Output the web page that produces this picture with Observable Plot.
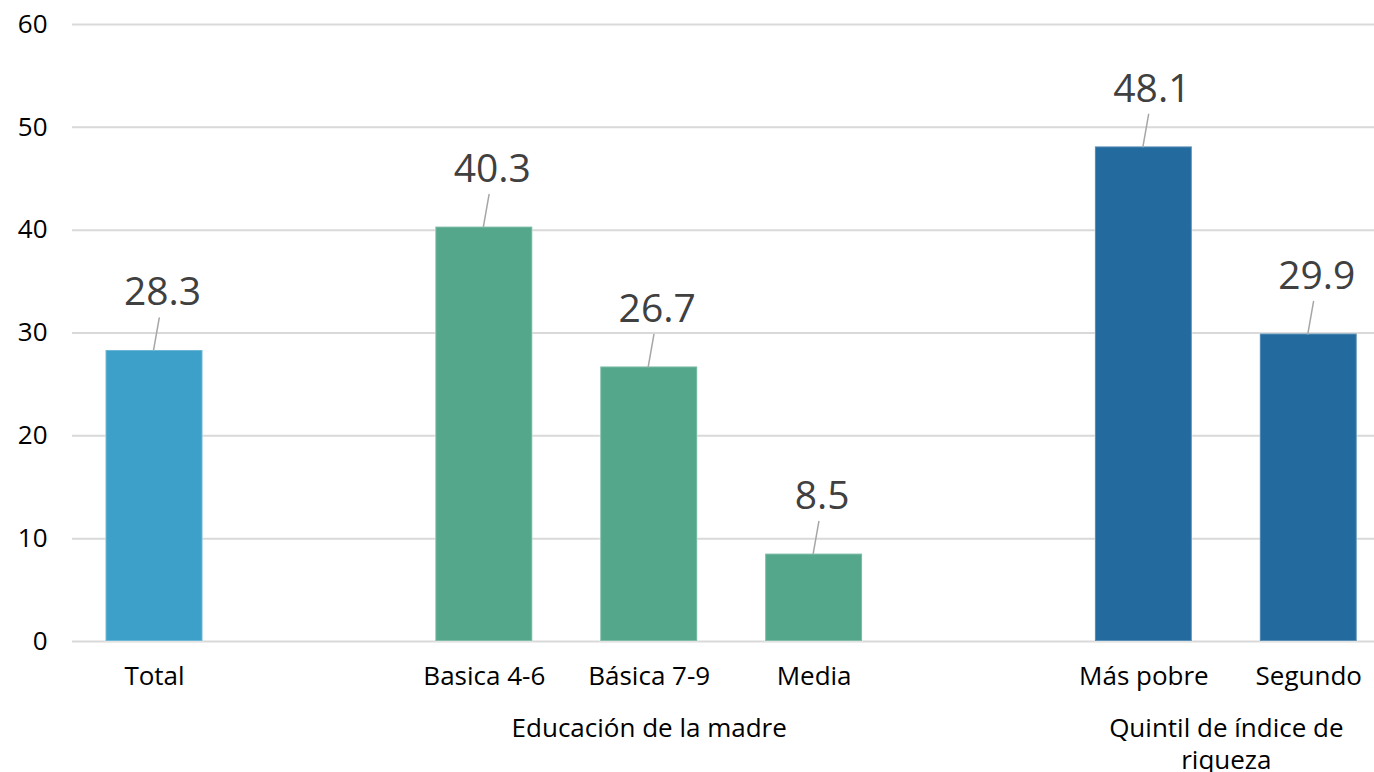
<!DOCTYPE html>
<html><head><meta charset="utf-8">
<script src="https://cdn.jsdelivr.net/npm/d3@7"></script>
<script src="https://cdn.jsdelivr.net/npm/@observablehq/plot@0.6"></script>
<style>body{margin:0;background:#fff;} #chart svg{display:block;}</style>
</head><body><div id="chart"></div>
<script>
const categories = ["Total", "Basica 4-6", "Básica 7-9", "Media", "Más pobre", "Segundo"];
const values = [28.3, 40.3, 26.7, 8.5, 48.1, 29.9];
const groups = ["Total", "Educación de la madre", "Educación de la madre", "Educación de la madre", "Quintil de índice de riqueza", "Quintil de índice de riqueza"];
const groupNames = ["Total", "Educación de la madre", "Quintil de índice de riqueza"];
const groupColors = ["#3da0c8", "#54a78b", "#236b9f"];
const groupLabels = ["Educación de la madre", "Quintil de índice de\nriqueza"];
const groupLabelAt = ["Básica 7-9", "Más pobre"];
const yTicks = [0, 10, 20, 30, 40, 50, 60];

const data = categories.map((c, i) => ({category: c, value: values[i], group: groups[i]}));
const xDomain = [categories[0], "gap1", categories[1], categories[2], categories[3], "gap2", categories[4], categories[5]];

const pad = 0.412;
const xRange = [37.6, 1424.7];
const step = (xRange[1] - xRange[0]) / (xDomain.length + pad);

const shape = {draw(context, l) { context.moveTo(0, 0); context.lineTo(0, -l); }};
const font = "'Open Sans', sans-serif";

const chart = Plot.plot({
  width: 1374, height: 772,
  marginLeft: 72, marginRight: 0, marginTop: 24, marginBottom: 131,
  style: {fontFamily: font, fontSize: "25px", background: "#fff", color: "#000"},
  x: {domain: xDomain, range: xRange, padding: pad, round: false, axis: null},
  y: {domain: [0, 60], axis: null},
  color: {domain: groupNames, range: groupColors},
  marks: [
    Plot.ruleY(yTicks, {stroke: "#d9d9d9", strokeWidth: 2}),
    Plot.axisY({ticks: yTicks, tickSize: 0, tickPadding: 25, label: null, fontSize: 26}),
    Plot.barY(data, {x: "category", y: "value", fill: "group", stroke: "#fff", strokeOpacity: 0.25, strokeWidth: 2}),
    Plot.axisX({ticks: categories, tickSize: 0, tickPadding: 25, label: null, fontSize: 26}),
    Plot.vector(data, {x: "category", y: "value", length: 33, rotate: 10, anchor: "start", shape, stroke: "#a6a6a6", strokeWidth: 1.5, dx: -1}),
    Plot.text(data, {x: "category", y: "value", text: d => d.value.toFixed(1), dx: 8, dy: -45, lineAnchor: "bottom", fontSize: 39, fill: "#404040"}),
    Plot.text([groupLabels[0]], {x: () => groupLabelAt[0], y: () => 0, text: d => d, dy: 77, lineAnchor: "top", fontSize: 26, fill: "#000"}),
    Plot.text([groupLabels[1]], {x: () => groupLabelAt[1], y: () => 0, text: d => d, dx: step / 2, dy: 72, lineAnchor: "top", lineHeight: 1.25, fontSize: 26, fill: "#000"})
  ]
});
document.getElementById("chart").appendChild(chart);
</script>
</body></html>
